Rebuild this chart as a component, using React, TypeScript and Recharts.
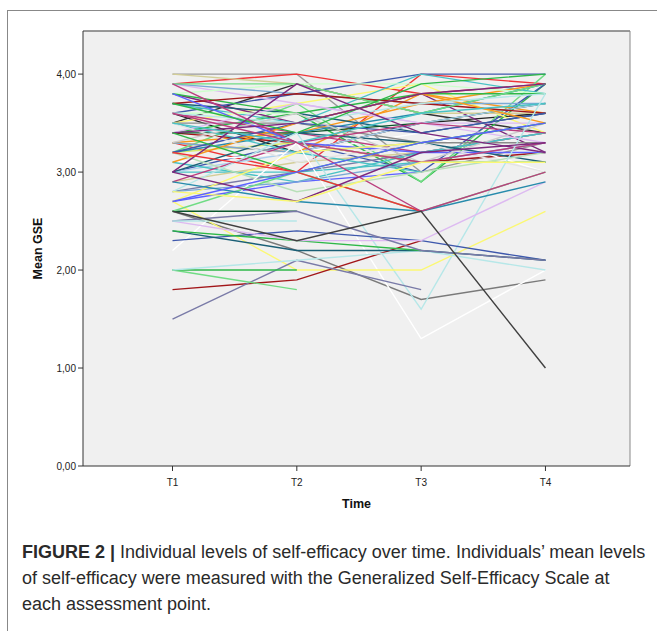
import React from 'react'
import { LineChart, Line, XAxis, YAxis, CartesianGrid, ReferenceLine } from 'recharts'

// measurement points (x = 1..4)
const times = ['T1', 'T2', 'T3', 'T4']
const yTicks = [0, 1, 2, 3, 4]

// mean GSE per individual at T1..T4 (null = missing)
const individuals: (number | null)[][] = [
  [4.0, 4.0, 3.0, 3.3],
  [3.9, 4.0, 3.8, 3.9],
  [3.6, 3.2, 3.5, 3.6],
  [3.5, 3.9, 3.6, 3.4],
  [3.3, 3.0, 4.0, 3.9],
  [3.4, 3.6, 2.9, 3.9],
  [3.2, 3.7, 2.9, 4.0],
  [3.0, 3.3, 3.0, 3.9],
  [3.5, 3.7, 3.9, 3.4],
  [3.8, 3.5, 3.8, 3.2],
  [3.6, 3.8, 4.0, 4.0],
  [3.7, 3.5, 4.0, 3.8],
  [3.3, 3.4, 3.7, 3.9],
  [3.3, 3.2, 3.8, 3.6],
  [3.4, 3.3, 3.1, 3.2],
  [3.2, 3.3, 3.1, 3.1],
  [3.0, 3.0, 3.1, 3.1],
  [3.1, 3.2, 3.4, 3.0],
  [3.9, 3.7, 3.5, 3.5],
  [3.8, 3.9, 3.9, 3.8],
  [3.9, 3.8, 3.7, 3.7],
  [4.0, 3.9, 3.6, 3.6],
  [3.7, 3.6, 3.4, 3.6],
  [3.5, 3.5, 3.3, 3.3],
  [3.6, 3.4, 3.2, 3.4],
  [3.4, 3.4, 3.5, 3.7],
  [3.2, 3.4, 3.6, 3.9],
  [3.8, 3.6, 3.8, 3.8],
  [3.3, 3.2, 3.3, 3.5],
  [3.0, 3.2, 3.5, 3.7],
  [2.9, 3.1, 3.2, 3.4],
  [2.8, 3.0, 3.2, 3.4],
  [3.1, 2.9, 3.2, 3.4],
  [2.7, 2.9, 3.0, null],
  [3.5, 3.2, 3.0, null],
  [3.6, 3.6, null, null],
  [3.7, 3.8, 3.7, 3.6],
  [3.4, 3.7, 3.5, 3.3],
  [3.2, 3.5, 3.4, 3.6],
  [3.9, 3.9, 3.6, 3.9],
  [3.1, 3.5, 3.8, 3.5],
  [3.0, 3.4, 3.3, 3.1],
  [3.6, 3.5, 3.7, 3.8],
  [3.8, 3.3, 3.2, 3.2],
  [3.3, 3.6, 3.1, 3.5],
  [2.9, 3.3, 3.5, 3.4],
  [3.5, 3.1, 3.3, 3.0],
  [3.7, 3.4, 3.9, 4.0],
  [2.8, 2.9, 3.1, 3.3],
  [3.2, 2.8, 3.0, 3.2],
  [2.7, 3.2, 3.3, null],
  [3.4, 3.5, 3.8, 3.9],
  [3.0, 3.9, 3.4, 3.2],
  [3.9, 3.3, 3.1, 3.3],
  [3.4, 3.0, 3.3, 3.5],
  [3.5, 3.3, 3.6, 3.7],
  [2.6, 2.2, 1.7, 1.9],
  [2.2, 3.3, 1.3, 2.0],
  [2.8, 3.4, 1.6, 3.8],
  [2.7, 2.0, 2.0, 2.6],
  [1.8, 1.9, 2.3, null],
  [1.5, 2.1, 1.8, null],
  [2.0, 1.8, null, null],
  [2.0, 2.0, null, null],
  [2.0, 2.1, 2.2, 2.0],
  [2.3, 2.4, 2.3, 2.1],
  [2.4, 2.2, 2.2, 2.1],
  [2.4, 2.3, 2.2, null],
  [2.5, 2.3, 2.3, 2.9],
  [2.6, 2.6, null, null],
  [2.5, 2.6, 2.2, 2.1],
  [2.5, 2.5, null, null],
  [2.6, 3.0, 2.6, 3.0],
  [2.9, 2.7, 2.6, 2.9],
  [3.0, 2.7, 3.2, 3.3],
  [3.2, 3.0, 2.6, null],
  [3.6, 3.3, 2.6, 3.0],
  [2.8, 2.7, 3.1, 3.1],
  [2.7, 3.0, 3.3, 3.5],
  [2.6, 2.3, 2.6, 1.0],
]

const lineColors = [
  '#999999', '#ef3338', '#222222', '#333333', '#ef3338', '#2eb848', '#70dc84', '#3e58ac',
  '#fbf873', '#7c287d', '#3e58ac', '#48c2c5', '#f8981d', '#f8981d', '#a21619', '#d7ea6a',
  '#48c2c5', '#ffffff', '#ddbaf1', '#ccffcc', '#7aaad5', '#d3ce97', '#1a5f76', '#8a8a8a',
  '#bb3f7f', '#0a562c', '#278bac', '#2eb848', '#7aaad5', '#acd0ee', '#d3ce97', '#797aa7',
  '#48c2c5', '#5d61ff', '#48c2c5', '#ccffcc', '#a21619', '#ddbaf1', '#3e58ac', '#70dc84',
  '#f8981d', '#1a5f76', '#b6e7e8', '#5d61ff', '#cccccc', '#bb3f7f', '#e4e4e4', '#2eb848',
  '#7aaad5', '#b8e0b8', '#fbf873', '#7c287d', '#7c287d', '#bb3f7f', '#2eb848', '#48c2c5',
  '#7a7a7a', '#ffffff', '#b6e7e8', '#fbf873', '#a21619', '#797aa7', '#70dc84', '#2eb848',
  '#b6e7e8', '#3e58ac', '#1a5f76', '#2eb848', '#ddbaf1', '#0a562c', '#797aa7', '#b6e7e8',
  '#70dc84', '#278bac', '#7c287d', '#ef3338', '#bb3f7f', '#fbf873', '#5d61ff', '#404040',
]

const data = times.map((t, i) => {
  const row: Record<string, number | string | null> = { x: i + 1, time: t }
  individuals.forEach((vals, k) => {
    row[`p${k}`] = vals[i]
  })
  return row
})

const fontFamily = 'Liberation Sans, Arial, sans-serif'
const tickFont = { fontFamily, fontSize: 10, fill: '#222' }
const labelFont = { fontFamily, fontSize: 12.5, fontWeight: 700, fill: '#111' }

// plain dark tick text for the time axis
const TimeTick = (props: any) => {
  const { x, y, payload } = props
  return (
    <text x={x} y={y + 12} textAnchor="middle" fontFamily={fontFamily} fontSize={10} fill="#222" stroke="none">
      {times[payload.value - 1]}
    </text>
  )
}

const App: React.FC = () => {
  return (
    <div style={{ position: 'absolute', left: 0, top: 0, width: 657, height: 631, overflow: 'hidden', background: '#fff' }}>
      <div style={{ position: 'absolute', left: 7, top: 10, width: 700, height: 700, borderTop: '1.5px solid #888', borderLeft: '1.5px solid #888' }} />
      <div style={{ position: 'absolute', left: 0, top: 0 }}>
        <LineChart width={657} height={520} data={data} margin={{ top: 31, right: 27, left: 0, bottom: 0 }}>
          <CartesianGrid fill="#f0f0f0" stroke="none" horizontal={false} vertical={false} />
          <ReferenceLine y={4.44} stroke="#777" strokeWidth={1.5} />
          <ReferenceLine x={4.68} stroke="#888" strokeWidth={1} />
          {individuals.map((_, k) => (
            <Line
              key={k}
              type="linear"
              dataKey={`p${k}`}
              stroke={lineColors[k % lineColors.length]}
              strokeWidth={1.4}
              dot={false}
              activeDot={false}
              connectNulls={false}
              isAnimationActive={false}
            />
          ))}
          <XAxis
            dataKey="x"
            type="number"
            domain={[0.28, 4.68]}
            ticks={[1, 2, 3, 4]}
            height={54}
            tick={<TimeTick />}
            tickSize={5}
            tickMargin={3}
            stroke="#333"
            allowDataOverflow
            label={{ value: 'Time', position: 'insideBottom', offset: 12, style: labelFont }}
          />
          <YAxis
            type="number"
            domain={[0, 4.44]}
            ticks={yTicks}
            tickFormatter={(v: number) => v.toFixed(2).replace('.', ',')}
            width={83}
            tick={tickFont}
            tickSize={5}
            tickMargin={2}
            stroke="#333"
            allowDataOverflow
            label={{ value: 'Mean GSE', angle: -90, position: 'insideLeft', offset: 38, style: { ...labelFont, textAnchor: 'middle' } }}
          />
        </LineChart>
      </div>
      <div
        style={{
          position: 'absolute',
          left: 22,
          top: 539,
          fontFamily,
          fontSize: 18,
          lineHeight: '26px',
          color: '#2a2a2a',
          whiteSpace: 'nowrap',
        }}
      >
        <b>FIGURE 2 |</b> Individual levels of self-efficacy over time. Individuals’ mean levels
        <br />
        of self-efficacy were measured with the Generalized Self-Efficacy Scale at
        <br />
        each assessment point.
      </div>
    </div>
  )
}

export default App
